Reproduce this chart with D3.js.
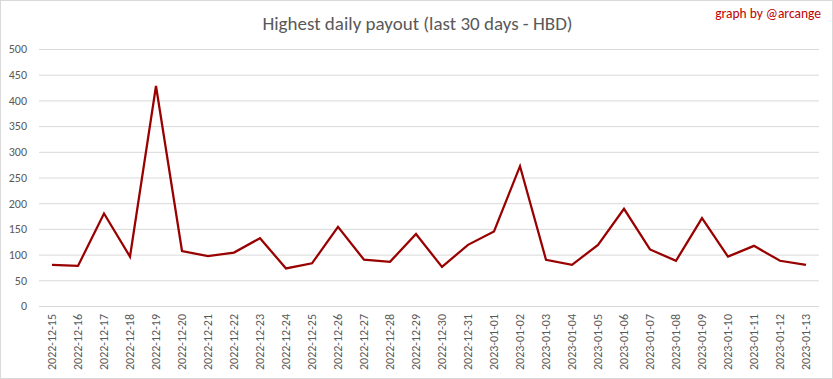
<!DOCTYPE html>
<html>
<head>
<meta charset="utf-8">
<script src="https://cdn.jsdelivr.net/npm/d3@7"></script>
<style>
  body { margin: 0; background: #fff; }
  #chart { width: 833px; height: 379px; }
  .grid line { stroke: #d9d9d9; stroke-width: 1; }
  .grid path { display: none; }
  .axis text { fill: #595959; font-family: Carlito, "Liberation Sans Narrow", "Liberation Sans", Arial, sans-serif; }
  .axis path, .axis line { display: none; }
  .line { fill: none; stroke: #990000; stroke-width: 2.25; stroke-linejoin: miter; }
</style>
</head>
<body>
<div id="chart"></div>
<script>

// dates on the x axis
var days = [
    "2022-12-15", "2022-12-16", "2022-12-17", "2022-12-18", "2022-12-19",
    "2022-12-20", "2022-12-21", "2022-12-22", "2022-12-23", "2022-12-24",
    "2022-12-25", "2022-12-26", "2022-12-27", "2022-12-28", "2022-12-29",
    "2022-12-30", "2022-12-31", "2023-01-01", "2023-01-02", "2023-01-03",
    "2023-01-04", "2023-01-05", "2023-01-06", "2023-01-07", "2023-01-08",
    "2023-01-09", "2023-01-10", "2023-01-11", "2023-01-12", "2023-01-13"];

// highest payout (HBD)
var payout = [
    80, 78, 180, 96, 428,
    107, 97, 104, 132, 73,
    83, 154, 90, 86, 140,
    76, 119, 145, 272, 90,
    80, 119, 189, 110, 88,
    171, 96, 117, 88, 80];

var yTicks = [0, 50, 100, 150, 200, 250, 300, 350, 400, 450, 500];

var title = "Highest daily payout (last 30 days - HBD)";
var credit = "graph by @arcange";

var W = 833, H = 379;
var margin = {top: 49, right: 14, bottom: 73, left: 39},
    width = W - margin.left - margin.right,
    height = H - margin.top - margin.bottom;

var svg = d3.select("#chart").append("svg")
    .attr("width", W)
    .attr("height", H);

// outer border
svg.append("rect")
    .attr("x", 0.5).attr("y", 0.5)
    .attr("width", W - 1).attr("height", H - 1)
    .attr("fill", "#fff")
    .attr("stroke", "#d9d9d9");

svg.append("text")
    .attr("x", W / 2 + 1)
    .attr("y", 30)
    .attr("text-anchor", "middle")
    .attr("font-family", 'Carlito, "Liberation Sans Narrow", "Liberation Sans", Arial, sans-serif')
    .attr("font-size", 19)
    .attr("fill", "#595959")
    .text(title);

svg.append("text")
    .attr("x", 821)
    .attr("y", 18)
    .attr("text-anchor", "end")
    .attr("font-family", 'Carlito, "Liberation Sans Narrow", "Liberation Sans", Arial, sans-serif')
    .attr("font-size", 13.5)
    .attr("fill", "#c00000")
    .text(credit);

var g = svg.append("g")
    .attr("transform", "translate(" + margin.left + "," + margin.top + ")");

var x = d3.scaleBand().domain(days).range([0, width]);
var y = d3.scaleLinear().domain([0, 500]).range([height, 0]);

// horizontal gridlines
g.append("g")
    .attr("class", "grid")
    .call(d3.axisLeft(y).tickValues(yTicks).tickSize(-width).tickFormat(""));

// y axis labels
g.append("g")
    .attr("class", "axis")
    .call(d3.axisLeft(y).tickValues(yTicks).tickSize(0).tickPadding(12))
    .selectAll("text")
    .attr("font-size", 12);

// x axis labels, rotated
g.append("g")
    .attr("class", "axis")
    .attr("transform", "translate(0," + height + ")")
    .call(d3.axisBottom(x).tickSize(0))
    .selectAll("text")
    .attr("font-size", 12)
    .attr("text-anchor", "end")
    .attr("dy", "0.32em")
    .attr("transform", "translate(0,8) rotate(-90)")
    .attr("x", 0)
    .attr("y", 0);

var valueline = d3.line()
    .x(function(d, i) { return x(days[i]) + x.bandwidth() / 2; })
    .y(function(d) { return y(d); });

g.append("path")
    .datum(payout)
    .attr("class", "line")
    .attr("d", valueline);

</script>
</body>
</html>
